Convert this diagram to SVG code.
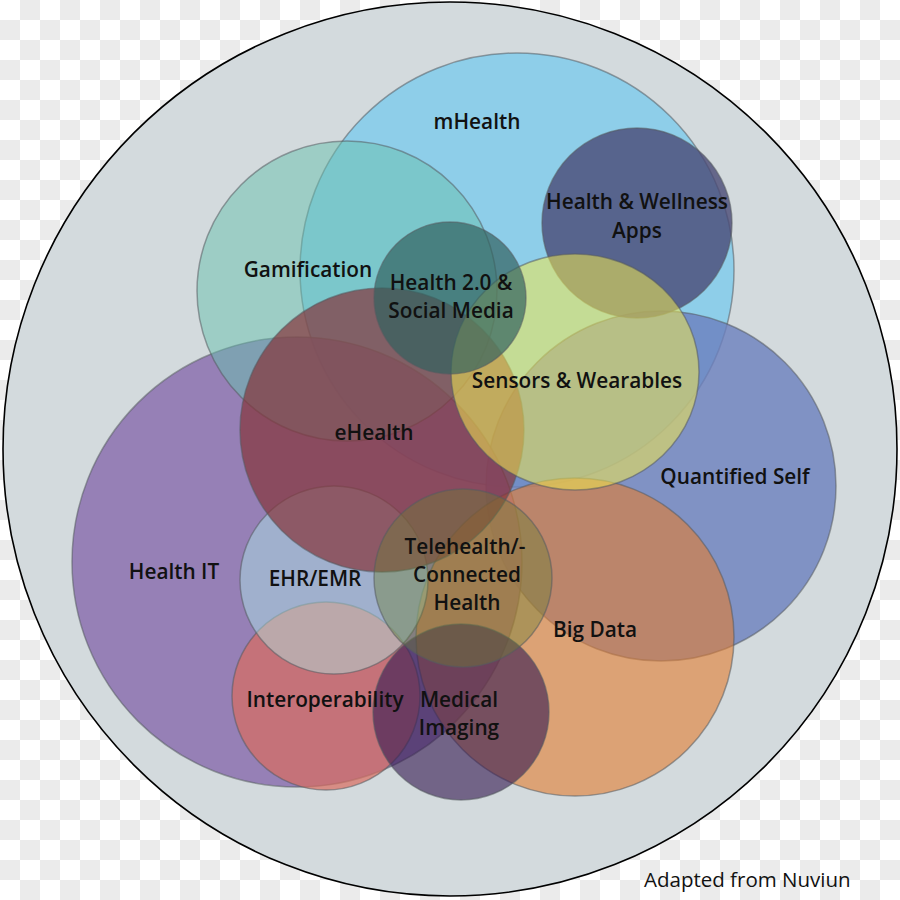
<svg xmlns="http://www.w3.org/2000/svg" width="900" height="900" viewBox="0 0 900 900">
<defs>
<pattern id="checker" width="40" height="40" patternUnits="userSpaceOnUse">
<rect width="40" height="40" fill="#ffffff"/>
<rect x="20" y="0" width="20" height="20" fill="#ebebeb"/>
<rect x="0" y="20" width="20" height="20" fill="#ebebeb"/>
</pattern>
</defs>
<style>
.c{stroke:#555b60;stroke-opacity:0.55;stroke-width:1.5}
.t{font-family:"Open Sans","Liberation Sans",sans-serif;font-weight:600;font-size:20.8px;fill:#111;text-anchor:middle}
.n{font-family:"Open Sans","Liberation Sans",sans-serif;font-weight:400;font-size:20.5px;fill:#111}
</style>
<rect width="900" height="900" fill="url(#checker)"/>
<g id="outer"><circle cx="450" cy="449" r="447" fill="#d3dadd" stroke="#000" stroke-width="1.6"/></g>
<g id="mhealth"><circle class="c" cx="517" cy="270" r="217" fill="#7dcaec" fill-opacity="0.8"/></g>
<g id="quantified"><circle class="c" cx="661" cy="486" r="175" fill="#6b80be" fill-opacity="0.8"/></g>
<g id="healthit"><circle class="c" cx="297" cy="562" r="225" fill="#8769ac" fill-opacity="0.8"/></g>
<g id="gamification"><circle class="c" cx="347" cy="291" r="150" fill="#67c0ad" fill-opacity="0.5"/></g>
<g id="apps"><circle class="c" cx="637" cy="223" r="95" fill="#4a4a75" fill-opacity="0.8"/></g>
<g id="bigdata"><circle class="c" cx="575" cy="637" r="159" fill="#e27d31" fill-opacity="0.6"/></g>
<g id="interop"><circle class="c" cx="326" cy="696" r="94" fill="#d86c60" fill-opacity="0.7"/></g>
<g id="ehr"><circle class="c" cx="334" cy="580" r="94" fill="#aef2ef" fill-opacity="0.42"/></g>
<g id="ehealth"><circle class="c" cx="382" cy="430" r="142" fill="#85343a" fill-opacity="0.7"/></g>
<g id="sensors"><ellipse class="c" cx="575" cy="372" rx="124" ry="118" fill="#f0e850" fill-opacity="0.55"/></g>
<g id="health20"><circle class="c" cx="450" cy="298" r="76" fill="#336260" fill-opacity="0.7"/></g>
<g id="imaging"><circle class="c" cx="461" cy="712" r="88" fill="#371c52" fill-opacity="0.62"/></g>
<g id="telehealth"><circle class="c" cx="463" cy="578" r="89" fill="#6b7f34" fill-opacity="0.42"/></g>
<g id="labels">
<text class="t" x="477" y="129">mHealth</text>
<text class="t" x="637" y="209">Health &amp; Wellness</text>
<text class="t" x="637" y="238">Apps</text>
<text class="t" x="308" y="277">Gamification</text>
<text class="t" x="451" y="290">Health 2.0 &amp;</text>
<text class="t" x="451" y="318">Social Media</text>
<text class="t" x="577" y="388">Sensors &amp; Wearables</text>
<text class="t" x="374" y="440">eHealth</text>
<text class="t" x="735" y="484">Quantified Self</text>
<text class="t" x="174" y="579">Health IT</text>
<text class="t" x="315" y="586">EHR/EMR</text>
<text class="t" x="465" y="554">Telehealth/-</text>
<text class="t" x="467" y="582">Connected</text>
<text class="t" x="467" y="610">Health</text>
<text class="t" x="595" y="637">Big Data</text>
<text class="t" x="325" y="707">Interoperability</text>
<text class="t" x="459" y="707">Medical</text>
<text class="t" x="459" y="735">Imaging</text>
<text class="n" x="644" y="887">Adapted from Nuviun</text>
</g>
</svg>
